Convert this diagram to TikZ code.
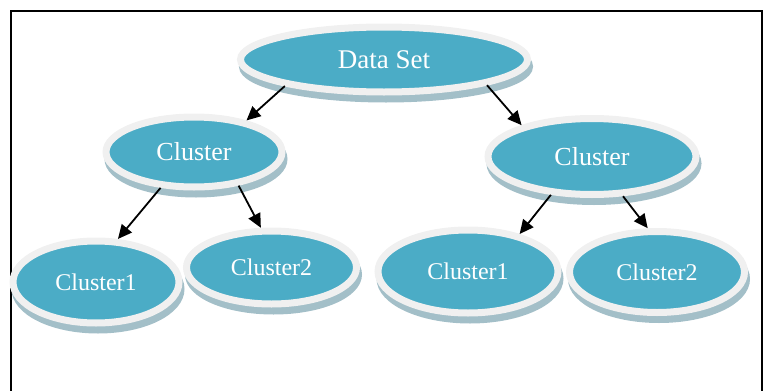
\documentclass[tikz,border=0pt]{standalone}
\usepackage{fontspec}
\setmainfont{Liberation Serif}
\usetikzlibrary{shapes.geometric,shadows,arrows.meta}
\definecolor{discblue}{HTML}{4BACC6}
\definecolor{ringgray}{HTML}{F0F0F0}
\definecolor{rimfill}{HTML}{A3BFC8}
\begin{document}
\begin{tikzpicture}[
    x=1pt, y=-1pt,
    disc/.style={ellipse, draw=ringgray, line width=7pt, fill=discblue, text=white, inner sep=0pt,
        general shadow={shadow xshift=2pt, shadow yshift=-7pt, fill=rimfill, draw=rimfill}},
    big/.style={font=\fontsize{27}{30}\selectfont},
    mid/.style={font=\fontsize{26}{30}\selectfont},
    small/.style={font=\fontsize{24}{28}\selectfont},
    arrow/.style={-{Triangle[length=14pt,width=13pt]}, line width=1.8pt},
]
\useasboundingbox (0,0) rectangle (764,391);

% frame
\draw[line width=1.8pt] (11,391) -- (11,11) -- (762,11) -- (762,391);

% discs
\node[disc, big, minimum width=287pt, minimum height=65pt] (data) at (384,59.5) {Data Set};
\node[disc, mid, minimum width=176pt, minimum height=70pt] (clleft) at (194,152) {Cluster};
\node[disc, mid, minimum width=208pt, minimum height=76pt] (clright) at (592,156.5) {Cluster};
\node[disc, small, minimum width=166pt, minimum height=82pt] (oneleft) at (96,282) {Cluster1};
\node[disc, small, minimum width=170pt, minimum height=73pt] (twoleft) at (271.5,267.5) {Cluster2};
\node[disc, small, minimum width=180pt, minimum height=83pt] (oneright) at (468,271.5) {Cluster1};
\node[disc, small, minimum width=175pt, minimum height=81pt] (tworight) at (657,272) {Cluster2};

% links
\draw[arrow] (data.195) -- (clleft.31);
\draw[arrow] (data.-14) -- (clright.156);
\draw[arrow] (clleft.227) -- (oneleft.63);
\draw[arrow] (clleft.-37) -- (twoleft.105);
\draw[arrow] (clright.223) -- (oneright.36);
\draw[arrow] (clright.-52) -- (tworight.102);

\end{tikzpicture}
\end{document}
